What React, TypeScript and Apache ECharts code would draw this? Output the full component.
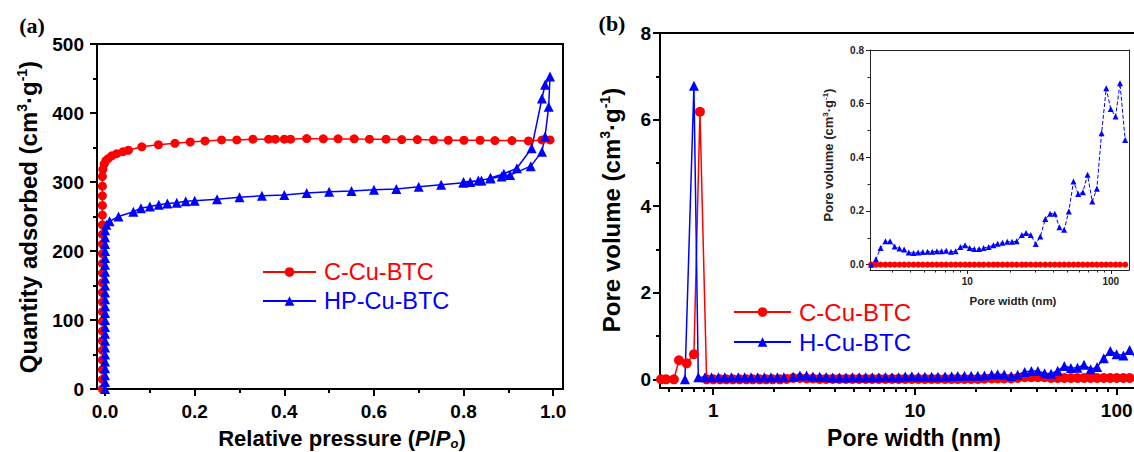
import React, { useEffect, useRef } from "react";
import * as echarts from "echarts";

// ---------- Panel (a): N2 isotherms ----------
const aRedPressure = [
  -0.006, -0.006, -0.006, -0.006, -0.006, -0.006, -0.006, -0.006, -0.006, -0.006, -0.006, -0.006,
  -0.006, -0.006, -0.006, -0.006, -0.006, -0.006, -0.006, -0.006, -0.006, -0.006, -0.006,
  -0.005, -0.002, 0.002, 0.007, 0.015, 0.026, 0.04, 0.052, 0.082, 0.119, 0.156, 0.19, 0.223,
  0.26, 0.294, 0.33, 0.365, 0.38, 0.4, 0.414, 0.45, 0.487, 0.52, 0.556, 0.59, 0.627, 0.662,
  0.697, 0.733, 0.766, 0.801, 0.837, 0.87, 0.908, 0.945, 0.975, 0.993,
];
const aRedQuantity = [
  0, 14, 28, 42, 56, 70, 84, 98, 112, 126, 140, 154,
  168, 182, 196, 210, 224, 238, 252, 266, 280, 294, 308,
  318, 326, 331, 334, 338, 341, 344, 346, 351, 354, 356, 358, 359.5,
  361, 361, 362, 362, 362, 362, 362, 363, 362.5, 362.5, 362.5, 362, 362, 361.5,
  361.5, 361, 360.5, 360.5, 360.5, 360, 360, 359.5, 361, 361,
];
const aBluePressure = [
  0, 0, 0, 0, 0, 0, 0, 0, 0, 0, 0, 0, 0, 0, 0, 0, 0, 0, 0, 0, 0, 0, 0, 0,
  0.003, 0.01, 0.03, 0.063, 0.08, 0.1, 0.12, 0.139, 0.16, 0.18, 0.2, 0.25, 0.3, 0.35, 0.4,
  0.45, 0.5, 0.55, 0.6, 0.65, 0.7, 0.75, 0.8, 0.815, 0.833, 0.86, 0.885, 0.904, 0.95, 0.975,
  0.982, 0.99, 0.993, 0.982, 0.975, 0.952, 0.919, 0.89, 0.86, 0.84, 0.8,
];
const aBlueQuantity = [
  0, 10, 20, 30, 40, 50, 60, 70, 80, 90, 100, 110, 120, 130, 140, 150, 160, 170, 180, 190, 200, 210, 220, 230,
  238, 243, 250, 257, 262, 264.5, 267, 269, 270, 272, 273, 275, 278, 280, 281,
  284, 286, 287, 288.6, 290, 293, 296, 299, 300, 302, 305, 308, 310, 323, 344,
  366, 409, 453, 441, 421, 349, 320, 312, 306, 302, 300,
];
const aXTicks = [0, 0.2, 0.4, 0.6, 0.8, 1.0];
const aXMinorTicks = [0.1, 0.3, 0.5, 0.7, 0.9];

// ---------- Panel (b): pore size distribution ----------
const bRedLowWidth = [0.551, 0.583, 0.638, 0.676, 0.738, 0.802, 0.859, 0.927, 1.0, 1.08, 1.16, 1.25, 1.35, 1.46, 1.57, 1.7, 1.83, 1.97];
const bRedLowVolume = [0, 0, 0, 0.44, 0.37, 0.58, 6.18, 0, 0, 0, 0, 0, 0, 0, 0, 0, 0, 0];
const bBlueLowWidth = [0.724, 0.802, 0.843, 0.91, 0.98, 1.06, 1.14, 1.23, 1.33, 1.43, 1.54, 1.66, 1.79, 1.93, 2.08, 2.24];
const bBlueLowVolume = [0, 6.78, 0.05, 0.05, 0.05, 0.05, 0.05, 0.05, 0.05, 0.05, 0.05, 0.05, 0.05, 0.05, 0.05, 0.05];

const fineWidth = [
  2.14, 2.31, 2.49, 2.69, 2.9, 3.12, 3.37, 3.63, 3.91, 4.22,
  4.55, 4.9, 5.29, 5.7, 6.14, 6.62, 7.14, 7.7, 8.3, 8.95,
  9.65, 10.4, 11.2, 12.1, 13.0, 14.1, 15.2, 16.3, 17.6, 19.0,
  20.5, 22.1, 24.0, 25.7, 27.7, 30.0, 32.3, 35.0, 37.8, 40.7,
  43.9, 47.3, 51.0, 55.0, 59.3, 63.9, 68.9, 74.3, 80.0, 86.3,
  93.0, 100, 108, 116, 126,
];
const blueFineVolume = [
  0, 0.02, 0.062, 0.087, 0.087, 0.068, 0.06, 0.056, 0.045, 0.043,
  0.045, 0.047, 0.048, 0.048, 0.05, 0.05, 0.052, 0.048, 0.05, 0.066,
  0.072, 0.062, 0.058, 0.058, 0.062, 0.066, 0.072, 0.078, 0.082, 0.085,
  0.085, 0.087, 0.11, 0.118, 0.11, 0.077, 0.105, 0.17, 0.19, 0.19,
  0.139, 0.13, 0.198, 0.31, 0.263, 0.27, 0.335, 0.235, 0.283, 0.49,
  0.657, 0.58, 0.552, 0.676, 0.465,
];
const redFineVolume = [
  0, 0.01, 0.03, 0.03, 0.02, 0.02, 0.01, 0.01, 0.01, 0.01,
  0.01, 0.01, 0.01, 0.01, 0.01, 0.01, 0.01, 0.01, 0.01, 0.01,
  0.01, 0.01, 0.01, 0.01, 0.01, 0.01, 0.01, 0.01, 0.01, 0.01,
  0.01, 0.015, 0.02, 0.02, 0.02, 0.02, 0.03, 0.05, 0.05, 0.05,
  0.05, 0.03, 0.03, 0.03, 0.03, 0.03, 0.03, 0.03, 0.03, 0.03,
  0.03, 0.03, 0.03, 0.03, 0.03,
];
const insetRedVolume = [
  0, 0, 0, 0, 0, 0, 0, 0, 0, 0, 0, 0, 0, 0, 0, 0, 0, 0, 0, 0,
  0, 0, 0, 0, 0, 0, 0, 0, 0, 0, 0, 0, 0, 0, 0, 0, 0, 0, 0, 0,
  0, 0, 0, 0, 0, 0, 0, 0, 0, 0, 0, 0, 0, 0, 0,
];
const bMajorWidth = [1, 10, 100];
const bMinorWidth = [0.6, 0.7, 0.8, 0.9, 2, 3, 4, 5, 6, 7, 8, 9, 20, 30, 40, 50, 60, 70, 80, 90];
const bYTicks = [0, 2, 4, 6, 8];
const bYMinorTicks = [1, 3, 5, 7];
const insetMajorWidth = [10, 100];
const insetMinorWidth = [3, 4, 5, 6, 7, 8, 9, 20, 30, 40, 50, 60, 70, 80, 90];
const insetYTicks = [0, 0.2, 0.4, 0.6, 0.8];
const insetYMinorTicks = [0.1, 0.3, 0.5, 0.7];

const SANS = "'Liberation Sans', Arial, sans-serif";
const SERIF = "'Liberation Serif', 'Times New Roman', serif";
const RED = "#ff0000";
const BLUE = "#0000ff";

const lg = (v: number) => Math.log10(v);
const pairs = (xs: number[], ys: number[], fx = (v: number) => v) => xs.map((x, i) => [fx(x), ys[i]]);

function frameAxis(gridIndex: number, position: string, min: number, max: number, width: number, color: string) {
  return {
    gridIndex, type: "value", position, min, max,
    axisLine: { show: true, onZero: false, lineStyle: { color, width } },
    axisTick: { show: false }, axisLabel: { show: false }, splitLine: { show: false },
  };
}
function tickAxis(gridIndex: number, position: string, min: number, max: number, values: number[], length: number, width: number, color: string) {
  return {
    gridIndex, type: "value", position, min, max,
    axisLine: { show: false, onZero: false },
    axisTick: { show: true, inside: false, length, customValues: values, lineStyle: { color, width } },
    axisLabel: { show: false }, splitLine: { show: false },
  };
}
function labelAxis(gridIndex: number, position: string, min: number, max: number, values: number[], opts: any) {
  return {
    gridIndex, type: "value", position, min, max,
    axisLine: { show: true, onZero: false, lineStyle: { color: opts.color, width: opts.lineWidth } },
    axisTick: { show: true, inside: false, length: opts.tickLen, customValues: values, lineStyle: { color: opts.color, width: opts.lineWidth } },
    axisLabel: {
      show: true, customValues: values, margin: opts.margin, fontSize: opts.fontSize, fontWeight: "bold",
      fontFamily: SANS, color: opts.color, formatter: opts.formatter,
    },
    splitLine: { show: false },
  };
}

const aXMin = -0.018, aXMax = 1.022;
const bXMin = -0.264, bXMax = 2.086;
const bYMin = -0.2, bYMax = 8;
const iXMin = lg(2.1), iXMax = lg(134);
const iYMin = -0.02, iYMax = 0.8;

const mainOpts = { color: "#000", lineWidth: 2, tickLen: 7, fontSize: 19 };
const insetOpts = { color: "#222", lineWidth: 1, tickLen: 4, fontSize: 10 };

const option: any = {
  animation: false,
  grid: [
    { left: 97, top: 44, width: 466, height: 345, outerBoundsMode: "none" },
    { left: 660, top: 33, width: 474, height: 355, outerBoundsMode: "none" },
    { left: 870, top: 50, width: 259, height: 220, outerBoundsMode: "none" },
  ],
  xAxis: [
    labelAxis(0, "bottom", aXMin, aXMax, aXTicks, { ...mainOpts, margin: 13, formatter: (v: number) => v.toFixed(1) }),
    tickAxis(0, "bottom", aXMin, aXMax, aXMinorTicks, 4, 2, "#000"),
    frameAxis(0, "top", aXMin, aXMax, 2, "#000"),
    labelAxis(1, "bottom", bXMin, bXMax, bMajorWidth.map(lg), { ...mainOpts, margin: 13, formatter: (v: number) => String(Math.round(Math.pow(10, v))) }),
    tickAxis(1, "bottom", bXMin, bXMax, bMinorWidth.map(lg), 4, 2, "#000"),
    frameAxis(1, "top", bXMin, bXMax, 2, "#000"),
    labelAxis(2, "bottom", iXMin, iXMax, insetMajorWidth.map(lg), { ...insetOpts, margin: 6, formatter: (v: number) => String(Math.round(Math.pow(10, v))) }),
    tickAxis(2, "bottom", iXMin, iXMax, insetMinorWidth.map(lg), 2.5, 1, "#222"),
    frameAxis(2, "top", iXMin, iXMax, 1, "#222"),
  ],
  yAxis: [
    {
      gridIndex: 0, type: "value", position: "left", min: 0, max: 500, interval: 100,
      axisLine: { show: true, onZero: false, lineStyle: { color: "#000", width: 2 } },
      axisTick: { show: true, inside: false, length: 7, lineStyle: { color: "#000", width: 2 } },
      minorTick: { show: true, splitNumber: 2, length: 4, lineStyle: { color: "#000", width: 2 } },
      axisLabel: { margin: 13, fontSize: 19, fontWeight: "bold", fontFamily: SANS, color: "#000" },
      splitLine: { show: false }, minorSplitLine: { show: false },
    },
    frameAxis(0, "right", 0, 500, 2, "#000"),
    labelAxis(1, "left", bYMin, bYMax, bYTicks, { ...mainOpts, margin: 9, formatter: (v: number) => String(v) }),
    tickAxis(1, "left", bYMin, bYMax, bYMinorTicks, 4, 2, "#000"),
    labelAxis(2, "left", iYMin, iYMax, insetYTicks, { ...insetOpts, margin: 6, formatter: (v: number) => v.toFixed(1) }),
    tickAxis(2, "left", iYMin, iYMax, insetYMinorTicks, 2.5, 1, "#222"),
    frameAxis(2, "right", iYMin, iYMax, 1, "#222"),
  ],
  legend: [
    {
      orient: "vertical", left: 262, top: 260, padding: 0, itemWidth: 53, itemHeight: 12, itemGap: 5,
      selectedMode: false,
      textStyle: { fontSize: 23.5, fontFamily: SANS, lineHeight: 24, padding: [0, 0, 0, 3] },
      data: [
        { name: "C-Cu-BTC", textStyle: { color: RED } },
        { name: "HP-Cu-BTC", textStyle: { color: BLUE } },
      ],
    },
    {
      orient: "vertical", left: 733, top: 300, padding: 0, itemWidth: 57, itemHeight: 12, itemGap: 6,
      selectedMode: false,
      textStyle: { fontSize: 24, fontFamily: SANS, lineHeight: 24, padding: [0, 0, 0, 3] },
      data: [
        { name: "C-Cu-BTC", textStyle: { color: RED } },
        { name: "H-Cu-BTC", textStyle: { color: BLUE } },
      ],
    },
  ],
  series: [
    {
      type: "line", name: "C-Cu-BTC", xAxisIndex: 0, yAxisIndex: 0,
      data: pairs(aRedPressure, aRedQuantity), symbol: "circle", symbolSize: 9,
      itemStyle: { color: RED }, lineStyle: { color: RED, width: 1.5 }, silent: true,
    },
    {
      type: "line", name: "HP-Cu-BTC", xAxisIndex: 0, yAxisIndex: 0,
      data: pairs(aBluePressure, aBlueQuantity), symbol: "triangle", symbolSize: 10,
      itemStyle: { color: BLUE }, lineStyle: { color: BLUE, width: 1.5 }, silent: true,
    },
    {
      type: "line", name: "C-Cu-BTC", xAxisIndex: 3, yAxisIndex: 2,
      data: pairs(bRedLowWidth.concat(fineWidth), bRedLowVolume.concat(redFineVolume), lg),
      symbol: "circle", symbolSize: 10,
      itemStyle: { color: RED }, lineStyle: { color: RED, width: 1.5 }, silent: true,
    },
    {
      type: "line", name: "H-Cu-BTC", xAxisIndex: 3, yAxisIndex: 2,
      data: pairs(bBlueLowWidth.concat(fineWidth.slice(2)), bBlueLowVolume.concat(blueFineVolume.slice(2)), lg),
      symbol: "triangle", symbolSize: 10,
      itemStyle: { color: BLUE }, lineStyle: { color: BLUE, width: 1.5 }, silent: true,
    },
    {
      type: "line", name: "C-Cu-BTC inset", xAxisIndex: 6, yAxisIndex: 4,
      data: pairs(fineWidth, insetRedVolume, lg), symbol: "circle", symbolSize: 6,
      itemStyle: { color: RED }, lineStyle: { color: RED, width: 1, type: "dashed" }, silent: true,
    },
    {
      type: "line", name: "H-Cu-BTC inset", xAxisIndex: 6, yAxisIndex: 4,
      data: pairs(fineWidth, blueFineVolume, lg), symbol: "triangle", symbolSize: 6,
      itemStyle: { color: BLUE }, lineStyle: { color: BLUE, width: 1, type: "dashed" }, silent: true,
    },
  ],
  graphic: [
    { type: "text", x: 32, y: 25, style: { text: "(a)", font: `bold 22px ${SERIF}`, fill: "#000", align: "center", verticalAlign: "middle" } },
    { type: "text", x: 612, y: 23, style: { text: "(b)", font: `bold 22px ${SERIF}`, fill: "#000", align: "center", verticalAlign: "middle" } },
    {
      type: "text", x: 28, y: 217, rotation: Math.PI / 2,
      style: {
        text: "{t|Quantity adsorbed (cm}{s|3}{t|·g}{s|-1}{t|)}", align: "center", verticalAlign: "middle",
        rich: {
          t: { fontSize: 24, fontWeight: "bold", fontFamily: SANS, fill: "#000", lineHeight: 26 },
          s: { fontSize: 14, fontWeight: "bold", fontFamily: SANS, fill: "#000", verticalAlign: "top", lineHeight: 14 },
        },
      },
    },
    {
      type: "text", x: 342, y: 438,
      style: {
        text: "{t|Relative pressure (}{i|P}{t|/}{i|P}{o|o}{t|)}", align: "center", verticalAlign: "middle",
        rich: {
          t: { fontSize: 22, fontWeight: "bold", fontFamily: SANS, fill: "#000", lineHeight: 24 },
          i: { fontSize: 22, fontWeight: "bold", fontStyle: "italic", fontFamily: SANS, fill: "#000", lineHeight: 24 },
          o: { fontSize: 13, fontWeight: "bold", fontStyle: "italic", fontFamily: SANS, fill: "#000", verticalAlign: "bottom", lineHeight: 13 },
        },
      },
    },
    {
      type: "text", x: 611, y: 210, rotation: Math.PI / 2,
      style: {
        text: "{t|Pore volume (cm}{s|3}{t|·g}{s|-1}{t|)}", align: "center", verticalAlign: "middle",
        rich: {
          t: { fontSize: 24, fontWeight: "bold", fontFamily: SANS, fill: "#000", lineHeight: 26 },
          s: { fontSize: 14, fontWeight: "bold", fontFamily: SANS, fill: "#000", verticalAlign: "top", lineHeight: 14 },
        },
      },
    },
    {
      type: "text", x: 914, y: 438,
      style: { text: "Pore width (nm)", font: `bold 23px ${SANS}`, fill: "#000", align: "center", verticalAlign: "middle" },
    },
    {
      type: "text", x: 828, y: 155, rotation: Math.PI / 2,
      style: {
        text: "{t|Pore volume (cm}{s|3}{t|·g}{s|-1}{t|)}", align: "center", verticalAlign: "middle",
        rich: {
          t: { fontSize: 13, fontWeight: "bold", fontFamily: SANS, fill: "#222", lineHeight: 14 },
          s: { fontSize: 8, fontWeight: "bold", fontFamily: SANS, fill: "#222", verticalAlign: "top", lineHeight: 8 },
        },
      },
    },
    {
      type: "text", x: 1013, y: 301,
      style: { text: "Pore width (nm)", font: `bold 11.5px ${SANS}`, fill: "#222", align: "center", verticalAlign: "middle" },
    },
  ],
};

export default function App() {
  const ref = useRef<HTMLDivElement>(null);
  useEffect(() => {
    document.body.style.margin = "0";
    const chart = echarts.init(ref.current as HTMLDivElement, null, { renderer: "svg" });
    chart.setOption(option);
    return () => chart.dispose();
  }, []);
  return <div ref={ref} style={{ width: 1134, height: 452, background: "#fff" }} />;
}
